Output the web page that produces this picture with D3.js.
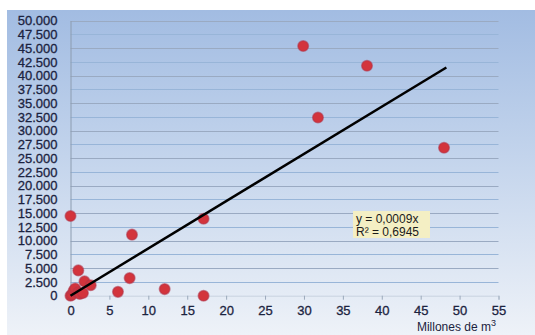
<!DOCTYPE html>
<html>
<head>
<meta charset="utf-8">
<script src="https://cdn.jsdelivr.net/npm/d3@7"></script>
<style>
  body { margin: 0; background: #fff; }
  svg { display: block; font-family: Arial, "Liberation Sans", sans-serif; }
</style>
</head>
<body>
<div id="chart"></div>
<script>
// scatter points: x = millones de m3, y = value
var xVals = [0, 0.2, 0.4, 0.6, 1.0, 1.2, 1.6, 1.8, 2.6, 1.0, 0, 6.1, 7.6, 7.9, 12.1, 17.1, 17.1, 29.9, 31.8, 38.1, 48.0];
var yVals = [0, 200, 900, 1300, 600, 300, 500, 2600, 1900, 4600, 14500, 700, 3200, 11100, 1200, 0, 14000, 45400, 32400, 41800, 26900];

var trendX = [0, 48.3];
var trendY = [0, 41500];

var xTicks = [0, 5, 10, 15, 20, 25, 30, 35, 40, 45, 50, 55];
var yTicks = [0, 2500, 5000, 7500, 10000, 12500, 15000, 17500, 20000, 22500, 25000,
              27500, 30000, 32500, 35000, 37500, 40000, 42500, 45000, 47500, 50000];

var eqLines = ["y = 0,0009x", "R\u00b2 = 0,6945"];

var W = 535, H = 335;
var svg = d3.select("#chart").append("svg")
  .attr("width", W)
  .attr("height", H);

var defs = svg.append("defs");
var grad = defs.append("linearGradient")
  .attr("id", "bg").attr("x1", 0).attr("y1", 0).attr("x2", 0).attr("y2", 1);
grad.append("stop").attr("offset", "0%").attr("stop-color", "#a2bce2");
grad.append("stop").attr("offset", "45%").attr("stop-color", "#c3d4ec");
grad.append("stop").attr("offset", "100%").attr("stop-color", "#eef2f8");

svg.append("rect")
  .attr("x", 7).attr("y", 10)
  .attr("width", W - 7).attr("height", H - 10)
  .attr("fill", "url(#bg)");

var x = d3.scaleLinear().domain([0, 55]).range([70.5, 498.5]);
var y = d3.scaleLinear().domain([0, 50000]).range([295.7, 20.7]);

var fmt = function(d) { return d3.format(",")(d).replace(/,/g, "."); };

// horizontal grid
svg.append("g").selectAll("line").data(yTicks.slice(1))
  .enter().append("line")
  .attr("x1", x(0)).attr("x2", x(55))
  .attr("y1", function(d) { return Math.round(y(d)) + 0.5; })
  .attr("y2", function(d) { return Math.round(y(d)) + 0.5; })
  .attr("stroke", function(d, i) { return i % 2 ? "#9aaac2" : "#98b5d8"; })
  .attr("stroke-width", 1.1);

// y axis
var yAxis = svg.append("g")
  .attr("transform", "translate(" + x(0) + ",0)")
  .call(d3.axisLeft(y).tickValues(yTicks).tickFormat(fmt).tickSize(0).tickPadding(13));
yAxis.select(".domain").attr("stroke", "#8c9cb0");
yAxis.selectAll("text")
  .attr("fill", "#1b2340")
  .attr("stroke", "#1b2340").attr("stroke-width", 0.3)
  .style("font-size", "13px");

// x axis
var xAxis = svg.append("g")
  .attr("transform", "translate(0," + y(0) + ")")
  .call(d3.axisBottom(x).tickValues(xTicks).tickSize(4).tickPadding(6));
xAxis.select(".domain").attr("stroke", "#c9d3e0");
xAxis.selectAll(".tick line").attr("stroke", "#9aa8ba");
xAxis.selectAll("text")
  .attr("fill", "#1b2340")
  .attr("stroke", "#1b2340").attr("stroke-width", 0.3)
  .style("font-size", "13px");

svg.append("text")
  .attr("x", 496).attr("y", 331)
  .attr("text-anchor", "end")
  .attr("fill", "#1b2340")
  .style("font-size", "12px")
  .text("Millones de m")
  .append("tspan")
  .attr("dy", -5)
  .style("font-size", "9px")
  .text("3");

// points
var pts = xVals.map(function(d, i) { return [d, yVals[i]]; });
svg.append("g").selectAll("circle").data(pts)
  .enter().append("circle")
  .attr("cx", function(d) { return x(d[0]); })
  .attr("cy", function(d) { return y(d[1]); })
  .attr("r", 5.3)
  .attr("fill", "#d3343c")
  .attr("stroke", "#b0344a")
  .attr("stroke-opacity", 0.55)
  .attr("stroke-width", 1.5);

// trend line
svg.append("line")
  .attr("x1", x(trendX[0])).attr("y1", y(trendY[0]))
  .attr("x2", x(trendX[1])).attr("y2", y(trendY[1]))
  .attr("stroke", "#000")
  .attr("stroke-width", 2.5);

// equation box
svg.append("rect")
  .attr("x", 353).attr("y", 211)
  .attr("width", 77).attr("height", 27)
  .attr("fill", "#f4efc4");
svg.append("g").selectAll("text").data(eqLines)
  .enter().append("text")
  .attr("x", 356)
  .attr("y", function(d, i) { return 223 + i * 12.5; })
  .attr("fill", "#1b1b1b")
  .style("font-size", "12px")
  .text(function(d) { return d; });
</script>
</body>
</html>
